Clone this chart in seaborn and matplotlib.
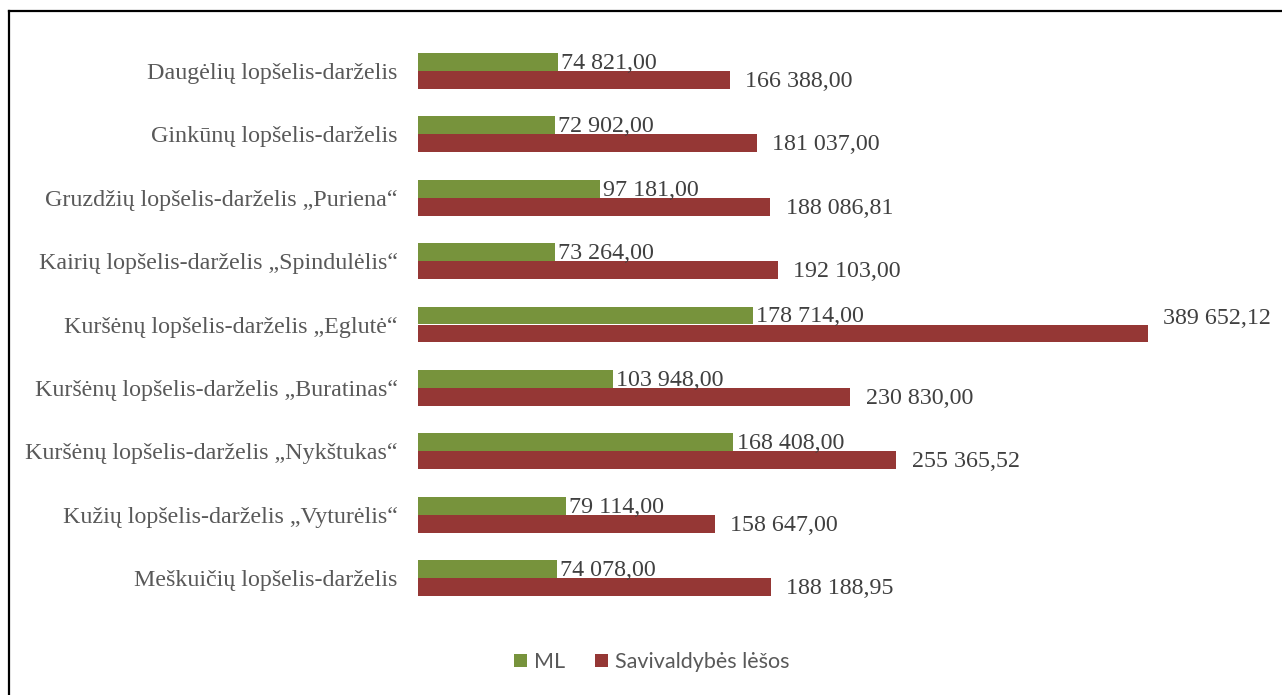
import matplotlib
matplotlib.use("Agg")
import matplotlib.pyplot as plt
from matplotlib.lines import Line2D
from matplotlib.patches import Patch
import seaborn as sns
import pandas as pd

categories = [
    "Daugėlių lopšelis-darželis",
    "Ginkūnų lopšelis-darželis",
    "Gruzdžių lopšelis-darželis „Puriena“",
    "Kairių lopšelis-darželis „Spindulėlis“",
    "Kuršėnų lopšelis-darželis „Eglutė“",
    "Kuršėnų lopšelis-darželis „Buratinas“",
    "Kuršėnų lopšelis-darželis „Nykštukas“",
    "Kužių lopšelis-darželis „Vyturėlis“",
    "Meškuičių lopšelis-darželis",
]
ml_values = [74821.00, 72902.00, 97181.00, 73264.00, 178714.00, 103948.00, 168408.00, 79114.00, 74078.00]
sav_values = [166388.00, 181037.00, 188086.81, 192103.00, 389652.12, 230830.00, 255365.52, 158647.00, 188188.95]
series_names = ["ML", "Savivaldybės lėšos"]
colors = ["#77933C", "#953735"]

df = pd.DataFrame({
    "Įstaiga": categories * 2,
    "Suma": ml_values + sav_values,
    "Šaltinis": [series_names[0]] * len(categories) + [series_names[1]] * len(categories),
})


def fmt(v):
    whole = int(v)
    frac = int(round((v - whole) * 100))
    s = f"{whole:,}".replace(",", " ")
    return f"{s},{frac:02d}"


sns.set_theme(style="white")
plt.rcParams["font.family"] = ["Liberation Serif", "DejaVu Serif"]

fig = plt.figure(figsize=(12.82, 6.95), dpi=100)
ax = fig.add_axes([418 / 1282, 1 - 609.7 / 695, (1261 - 418) / 1282, (609.7 - 39.3) / 695])

sns.barplot(data=df, x="Suma", y="Įstaiga", hue="Šaltinis", order=categories,
            hue_order=series_names, palette=colors, orient="h", width=0.568,
            saturation=1, legend=False, ax=ax, edgecolor="none", linewidth=0)

ax.set_xlim(0, 450000)
ax.set_ylim(len(categories) - 0.5, -0.5)
ax.set_xlabel("")
ax.set_ylabel("")
ax.set_xticks([])
for s in ax.spines.values():
    s.set_visible(False)
ax.tick_params(axis="y", length=0, pad=14.5, labelsize=17.3, labelcolor="#595959")

series_vals = [ml_values, sav_values]
pads = [2.2, 11]
xmax = ax.get_xlim()[1]
for ci, cont in enumerate(ax.containers):
    for patch, val in zip(cont.patches, series_vals[ci]):
        y = patch.get_y() + patch.get_height() / 2
        dy = -1
        if ci == 1 and val > 0.8 * xmax:
            dy = 10.5
        ax.annotate(fmt(val), xy=(patch.get_width(), y), xytext=(pads[ci], dy),
                    textcoords="offset points", ha="left", va="center",
                    fontsize=17.3, color="#404040", annotation_clip=False)

handles = [Patch(facecolor=c, edgecolor="none") for c in colors]
leg = fig.legend(handles, series_names, loc="center", bbox_to_anchor=(652 / 1282, 1 - 662 / 695),
                 ncol=2, frameon=False, handlelength=0.6, handleheight=0.6,
                 handletextpad=0.33, columnspacing=1.4,
                 prop={"family": ["Lato", "DejaVu Sans"], "size": 15.5})
for t in leg.get_texts():
    t.set_color("#595959")

fig.add_artist(Line2D([8.5 / 1282, 8.5 / 1282], [0, 1 - 10.5 / 695], transform=fig.transFigure,
                      color="black", linewidth=1.6, solid_capstyle="projecting"))
fig.add_artist(Line2D([8.5 / 1282, 1], [1 - 10.5 / 695, 1 - 10.5 / 695], transform=fig.transFigure,
                      color="black", linewidth=1.6, solid_capstyle="projecting"))

fig.savefig("out.png", dpi=100, facecolor="white")
